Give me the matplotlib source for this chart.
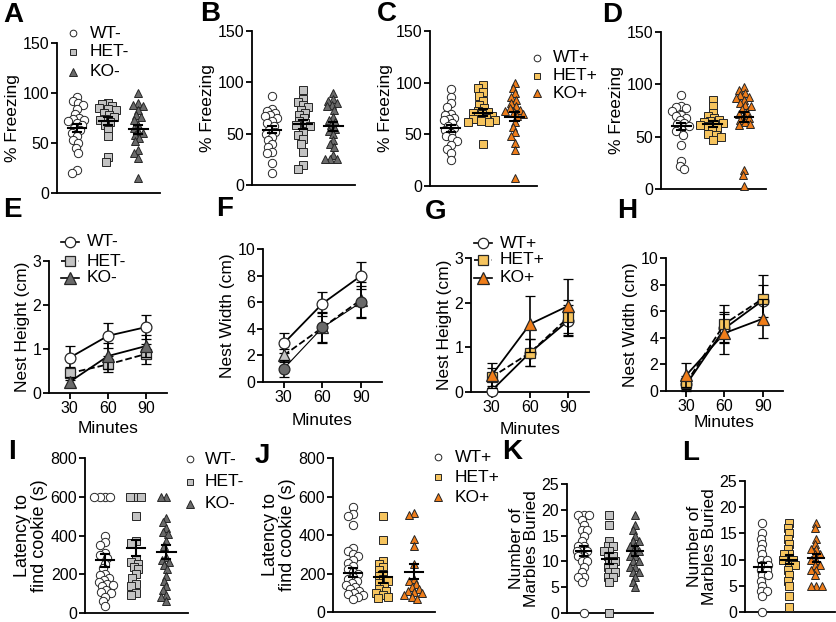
import numpy as np
import matplotlib
matplotlib.use("Agg")
import matplotlib.pyplot as plt
from matplotlib.lines import Line2D

plt.rcParams['font.family'] = ['Liberation Sans', 'DejaVu Sans']

W, H = 837, 622

# ---------------- data ----------------
groups_minus = ["WT-", "HET-", "KO-"]
groups_plus = ["WT+", "HET+", "KO+"]
minutes = [30, 60, 90]

# A: % Freezing (minus)
A_WT = [96, 92, 90, 88, 84, 79, 75, 74, 73, 72, 70, 68, 65, 63, 60, 57, 53, 50, 45, 40, 23, 20]
A_HET = [90, 89, 87, 85, 84, 83, 80, 78, 76, 74, 73, 71, 68, 63, 57, 36, 31]
A_KO = [100, 90, 88, 87, 83, 78, 76, 73, 68, 65, 62, 60, 58, 55, 52, 43, 40, 35, 15]
A_mean = [65, 72, 64]
A_sem = [4, 4, 4.5]

# B: % Freezing (minus)
B_WT = [87, 74, 72, 70, 68, 67, 65, 62, 60, 57, 54, 52, 50, 47, 44, 40, 37, 32, 31, 21, 12]
B_HET = [93, 84, 81, 78, 76, 73, 70, 68, 65, 62, 60, 58, 57, 52, 49, 45, 40, 32, 19, 16]
B_KO = [90, 84, 82, 80, 78, 77, 73, 66, 63, 61, 58, 55, 53, 50, 44, 40, 37, 29, 25, 25, 25]
B_mean = [54, 59, 57]
B_sem = [3.5, 4.5, 4]

# C: % Freezing (plus)
C_WT = [94, 86, 80, 76, 70, 66, 69, 65, 64, 61, 58, 56, 54, 51, 48, 46, 44, 40, 36, 32, 25]
C_HET = [98, 95, 91, 87, 82, 78, 75, 73, 72, 71, 70, 68, 67, 66, 65, 64, 63, 62, 62, 41]
C_KO = [100, 95, 90, 86, 83, 80, 77, 75, 74, 73, 72, 70, 68, 62, 57, 52, 48, 42, 35, 8]
C_mean = [56, 71, 67]
C_sem = [3.5, 3.5, 4.5]

# D: % Freezing (plus)
D_WT = [90, 79, 78, 77, 75, 71, 70, 68, 66, 63, 62, 60, 57, 55, 52, 42, 27, 22, 19]
D_HET = [85, 79, 73, 70, 68, 66, 65, 64, 63, 62, 61, 60, 58, 56, 53, 52, 50, 47]
D_KO = [97, 95, 92, 90, 88, 87, 85, 82, 80, 79, 76, 74, 72, 70, 68, 66, 64, 62, 61, 18, 13, 3]
D_mean = [60, 62, 69]
D_sem = [3.5, 3, 5]

# E: Nest height (minus)
E_mean_WT = [0.80, 1.30, 1.50]
E_sem_WT = [0.27, 0.28, 0.27]
E_mean_HET = [0.45, 0.65, 0.89]
E_sem_HET = [0.15, 0.18, 0.22]
E_mean_KO = [0.25, 0.84, 1.07]
E_sem_KO = [0.12, 0.30, 0.25]

# F: Nest width (minus)
F_mean_WT = [2.9, 5.9, 8.0]
F_sem_WT = [0.75, 0.9, 1.0]
F_mean_HET = [2.0, 4.1, 6.2]
F_sem_HET = [0.5, 1.1, 1.3]
F_mean_KO = [1.0, 4.1, 6.0]
F_sem_KO = [0.65, 1.15, 1.2]

# G: Nest height (plus)
G_mean_WT = [0.03, 0.88, 1.60]
G_sem_WT = [0.05, 0.30, 0.35]
G_mean_HET = [0.33, 0.88, 1.67]
G_sem_HET = [0.20, 0.30, 0.40]
G_mean_KO = [0.37, 1.52, 1.93]
G_sem_KO = [0.28, 0.63, 0.60]

# H: Nest width (plus)
H_mean_WT = [0.5, 4.7, 6.8]
H_sem_WT = [0.5, 1.1, 1.2]
H_mean_HET = [0.63, 5.05, 6.93]
H_sem_HET = [0.5, 1.4, 1.8]
H_mean_KO = [1.2, 4.35, 5.43]
H_sem_KO = [0.93, 1.6, 1.45]

# I: latency (minus)
I_WT = [600, 600, 600, 600, 400, 365, 350, 310, 300, 285, 255, 230, 200, 195, 180, 170, 160, 150,
        145, 140, 120, 110, 105, 85, 60, 35]
I_HET = [600, 600, 600, 500, 370, 360, 280, 265, 255, 240, 225, 200, 180, 150, 140, 105, 95]
I_KO = [600, 600, 490, 470, 440, 420, 410, 370, 345, 290, 275, 265, 250, 225, 190, 165, 140, 120, 95, 85, 60]
I_mean = [272, 335, 315]
I_sem = [35, 40, 38]

# J: latency (plus)
J_WT = [545, 510, 500, 450, 330, 315, 300, 290, 270, 255, 240, 225, 210, 200, 180, 170, 160, 150,
        140, 130, 120, 110, 100, 95, 90, 80, 65]
J_HET = [500, 372, 265, 250, 235, 220, 200, 185, 170, 160, 150, 135, 120, 110, 100, 90, 80, 75]
J_KO = [515, 505, 380, 345, 250, 170, 160, 145, 130, 120, 110, 105, 100, 90, 80, 70]
J_mean = [205, 180, 210]
J_sem = [25, 27, 40]

# K: marbles (minus)
K_WT = [19, 19, 19, 18, 17, 16, 16, 15, 14, 13, 13, 12, 12, 12, 11, 11, 10, 10, 9, 8, 7, 7, 6, 0]
K_HET = [19, 17, 14, 13, 13, 12, 12, 11, 11, 10, 10, 9, 9, 8, 8, 7, 7, 6, 0]
K_KO = [19, 17, 16, 15, 14, 14, 13, 13, 12, 12, 11, 11, 10, 10, 9, 9, 8, 8, 7, 6, 5]
K_mean = [12, 10.5, 12]
K_sem = [1.0, 1.1, 0.9]

# L: marbles (plus)
L_WT = [17, 15, 14, 13, 12, 11, 10, 10, 9, 9, 8, 8, 7, 7, 6, 5, 4, 4, 3, 0]
L_HET = [17, 16, 15, 14, 13, 12, 11, 11, 10, 10, 10, 9, 9, 8, 7, 6, 5, 3, 1]
L_KO = [17, 16, 14, 13, 12, 12, 11, 11, 10, 10, 9, 9, 8, 8, 7, 5, 5, 5]
L_mean = [8.5, 10, 10.3]
L_sem = [0.9, 0.9, 0.8]

# ---------------- styles ----------------
EDGE = '#262626'
LGRAY = '#C3C3C3'
DGRAY = '#6A6A6A'
YEL = '#F6C45E'
ORA = '#EF7D1A'

sty_minus = [dict(marker='o', fc='white', ms=6.0),
             dict(marker='s', fc=LGRAY, ms=5.6),
             dict(marker='^', fc=DGRAY, ms=6.4)]
sty_plus = [dict(marker='o', fc='white', ms=6.0),
            dict(marker='s', fc=YEL, ms=5.6),
            dict(marker='^', fc=ORA, ms=6.4)]

TICK_FS = 11.5
LAB_FS = 12.5
LEG_FS = 12.5

fig = plt.figure(figsize=(W / 100, H / 100), dpi=100)


def rect(x0, y0, x1, y1):
    return [x0 / W, 1 - y1 / H, (x1 - x0) / W, (y1 - y0) / H]


def fp(x, y):
    return x / W, 1 - y / H


def style_axes(ax):
    for s in ['top', 'right']:
        ax.spines[s].set_visible(False)
    for s in ['left', 'bottom']:
        ax.spines[s].set_linewidth(1.3)
    ax.tick_params(direction='out', length=4, width=1.3, labelsize=TICK_FS, pad=1.5)


def swarm_x(ax, x0, values, d):
    trans = ax.transData
    pts = trans.transform(np.column_stack([np.full(len(values), x0), values]))
    ys = pts[:, 1]
    ppu = trans.transform((1, 0))[0] - trans.transform((0, 0))[0]
    order = np.argsort(-ys, kind='stable')
    placed = []
    offs = np.zeros(len(values))
    for i in order:
        y = ys[i]
        cands = [0.0]
        for (px, py) in placed:
            dy = y - py
            if abs(dy) < d:
                dx = np.sqrt(d * d - dy * dy)
                cands += [px + dx, px - dx]
        cands = sorted(cands, key=lambda c: (abs(c), c))
        for c in cands:
            ok = True
            for (px, py) in placed:
                if (c - px) ** 2 + (y - py) ** 2 < d * d - 1e-6:
                    ok = False
                    break
            if ok:
                offs[i] = c
                placed.append((c, y))
                break
    return x0 + offs / ppu


def scatter_panel(rectpx, data, means, sems, styles, ylim, yticks, ylabel, lab_fs=LAB_FS):
    ax = fig.add_axes(rect(*rectpx))
    style_axes(ax)
    ax.set_xlim(0.35, 3.7)
    ax.set_ylim(*ylim)
    ax.set_yticks(yticks)
    ax.set_xticks([])
    ax.set_ylabel(ylabel, fontsize=lab_fs, labelpad=2, linespacing=1.0)
    for i, (vals, st) in enumerate(zip(data, styles)):
        x0 = i + 1
        xs = swarm_x(ax, x0, vals, 5.4)
        ax.plot(xs, vals, ls='none', marker=st['marker'], ms=st['ms'], mfc=st['fc'],
                mec=EDGE, mew=0.7, zorder=3, clip_on=False)
        m, s = means[i], sems[i]
        ax.plot([x0 - 0.3, x0 + 0.3], [m, m], color='k', lw=1.5, zorder=5)
        ax.plot([x0, x0], [m - s, m + s], color='k', lw=1.5, zorder=5)
        ax.plot([x0 - 0.13, x0 + 0.13], [m + s, m + s], color='k', lw=1.5, zorder=5)
        ax.plot([x0 - 0.13, x0 + 0.13], [m - s, m - s], color='k', lw=1.5, zorder=5)
    return ax


def line_panel(rectpx, series, ylim, yticks, ylabel, xpad):
    ax = fig.add_axes(rect(*rectpx))
    style_axes(ax)
    ax.set_xlim(14, 106)
    ax.set_ylim(*ylim)
    ax.set_yticks(yticks)
    ax.set_xticks(minutes)
    ax.set_ylabel(ylabel, fontsize=LAB_FS, labelpad=2)
    ax.set_xlabel("Minutes", fontsize=LAB_FS, labelpad=xpad)
    for k, (m, s, st, ls, lw) in enumerate(series):
        ax.errorbar(minutes, m, yerr=s, color='k', lw=lw, ls=ls, capsize=3.5, capthick=1.2,
                    elinewidth=1.2, marker=st['marker'], ms=st['ms'] * 1.3, mfc=st['fc'],
                    mec=EDGE, mew=0.9, zorder=3 + k, clip_on=False)
    return ax


def scatter_legend(x, ys, xt, labels, styles, scale=0.8):
    for y, lab, st in zip(ys, labels, styles):
        fig.add_artist(Line2D([x / W], [1 - y / H], transform=fig.transFigure, ls='none',
                              marker=st['marker'], ms=st['ms'] * scale, mfc=st['fc'], mec=EDGE, mew=0.7))
        fig.text(*fp(xt, y), lab, fontsize=LEG_FS, va='center', ha='left')


def line_legend(x, ys, xt, labels, styles, lss):
    for y, lab, st, ls in zip(ys, labels, styles, lss):
        fig.add_artist(Line2D([(x - 9) / W, (x + 9) / W], [1 - y / H, 1 - y / H], transform=fig.transFigure,
                              ls=ls, color='k', lw=1.2))
        fig.add_artist(Line2D([x / W], [1 - y / H], transform=fig.transFigure, ls='none',
                              marker=st['marker'], ms=st['ms'] * 1.25, mfc=st['fc'], mec=EDGE, mew=0.9))
        fig.text(*fp(xt, y), lab, fontsize=LEG_FS, va='center', ha='left')


# ---------------- panels ----------------
freeze_ticks = [0, 50, 100, 150]
scatter_panel((57, 43, 160, 193), [A_WT, A_HET, A_KO], A_mean, A_sem, sty_minus, (0, 150), freeze_ticks, "% Freezing")
scatter_panel((252, 31, 355, 185), [B_WT, B_HET, B_KO], B_mean, B_sem, sty_minus, (0, 150), freeze_ticks, "% Freezing")
scatter_panel((430, 31, 537, 186), [C_WT, C_HET, C_KO], C_mean, C_sem, sty_plus, (0, 150), freeze_ticks, "% Freezing")
scatter_panel((661, 32, 766, 189), [D_WT, D_HET, D_KO], D_mean, D_sem, sty_plus, (0, 150), freeze_ticks, "% Freezing")

line_panel((49, 261, 167, 393),
           [(E_mean_WT, E_sem_WT, sty_minus[0], '-', 1.3),
            (E_mean_HET, E_sem_HET, sty_minus[1], '--', 1.3),
            (E_mean_KO, E_sem_KO, sty_minus[2], '-', 1.3)],
           (0, 3), [0, 1, 2, 3], "Nest Height (cm)", 4)
sty_F = [sty_minus[0], dict(marker='^', fc=LGRAY, ms=6.4), dict(marker='o', fc=DGRAY, ms=6.0)]
line_panel((263, 249, 382, 382),
           [(F_mean_WT, F_sem_WT, sty_F[0], '-', 1.3),
            (F_mean_HET, F_sem_HET, sty_F[1], '--', 1.3),
            (F_mean_KO, F_sem_KO, sty_F[2], '-', 0.8)],
           (0, 10), [0, 2, 4, 6, 8, 10], "Nest Width (cm)", 6)
line_panel((471, 258, 589, 392),
           [(G_mean_WT, G_sem_WT, sty_plus[0], '-', 1.3),
            (G_mean_HET, G_sem_HET, sty_plus[1], '--', 1.3),
            (G_mean_KO, G_sem_KO, sty_plus[2], '-', 1.3)],
           (0, 3), [0, 1, 2, 3], "Nest Height (cm)", 5)
line_panel((666, 258, 783, 391),
           [(H_mean_WT, H_sem_WT, sty_plus[0], '-', 1.3),
            (H_mean_HET, H_sem_HET, sty_plus[1], '--', 1.3),
            (H_mean_KO, H_sem_KO, sty_plus[2], '-', 1.3)],
           (0, 10), [0, 2, 4, 6, 8, 10], "Nest Width (cm)", 1)

scatter_panel((85, 458, 188, 613), [I_WT, I_HET, I_KO], I_mean, I_sem, sty_minus, (0, 800),
              [0, 200, 400, 600, 800], "Latency to\nfind cookie (s)", 13)
scatter_panel((333, 458, 435, 612), [J_WT, J_HET, J_KO], J_mean, J_sem, sty_plus, (0, 800),
              [0, 200, 400, 600, 800], "Latency to\nfind cookie (s)", 13)
scatter_panel((567, 484, 653, 613), [K_WT, K_HET, K_KO], K_mean, K_sem, sty_minus, (0, 25),
              [0, 5, 10, 15, 20, 25], "Number of\nMarbles Buried", 12.5)
scatter_panel((745, 481, 835, 612), [L_WT, L_HET, L_KO], L_mean, L_sem, sty_plus, (0, 25),
              [0, 5, 10, 15, 20, 25], "Number of\nMarbles Buried", 12.5)

# ---------------- legends ----------------
scatter_legend(73, [33, 52, 72], 90, groups_minus, sty_minus)
scatter_legend(537, [58, 76, 93], 553, groups_plus, sty_plus)
line_legend(70, [242, 261, 278], 87, groups_minus, sty_minus, ['-', '--', '-'])
line_legend(483, [243, 260, 278], 500, groups_plus, sty_plus, ['-', '--', '-'])
scatter_legend(190, [459, 482, 504], 205, groups_minus, sty_minus)
scatter_legend(438, [457, 477, 497], 455, groups_plus, sty_plus)

# ---------------- panel letters ----------------
letters = [("A", 3, 22), ("B", 200, 21), ("C", 377, 21), ("D", 602, 22),
           ("E", 3, 217), ("F", 216, 216), ("G", 425, 219), ("H", 617, 218),
           ("I", 8, 459), ("J", 255, 463), ("K", 502, 459), ("L", 682, 460)]
for t, x, y in letters:
    fig.text(*fp(x, y), t, fontsize=20, fontweight='bold', va='baseline', ha='left')

fig.savefig("out.png", dpi=100)
